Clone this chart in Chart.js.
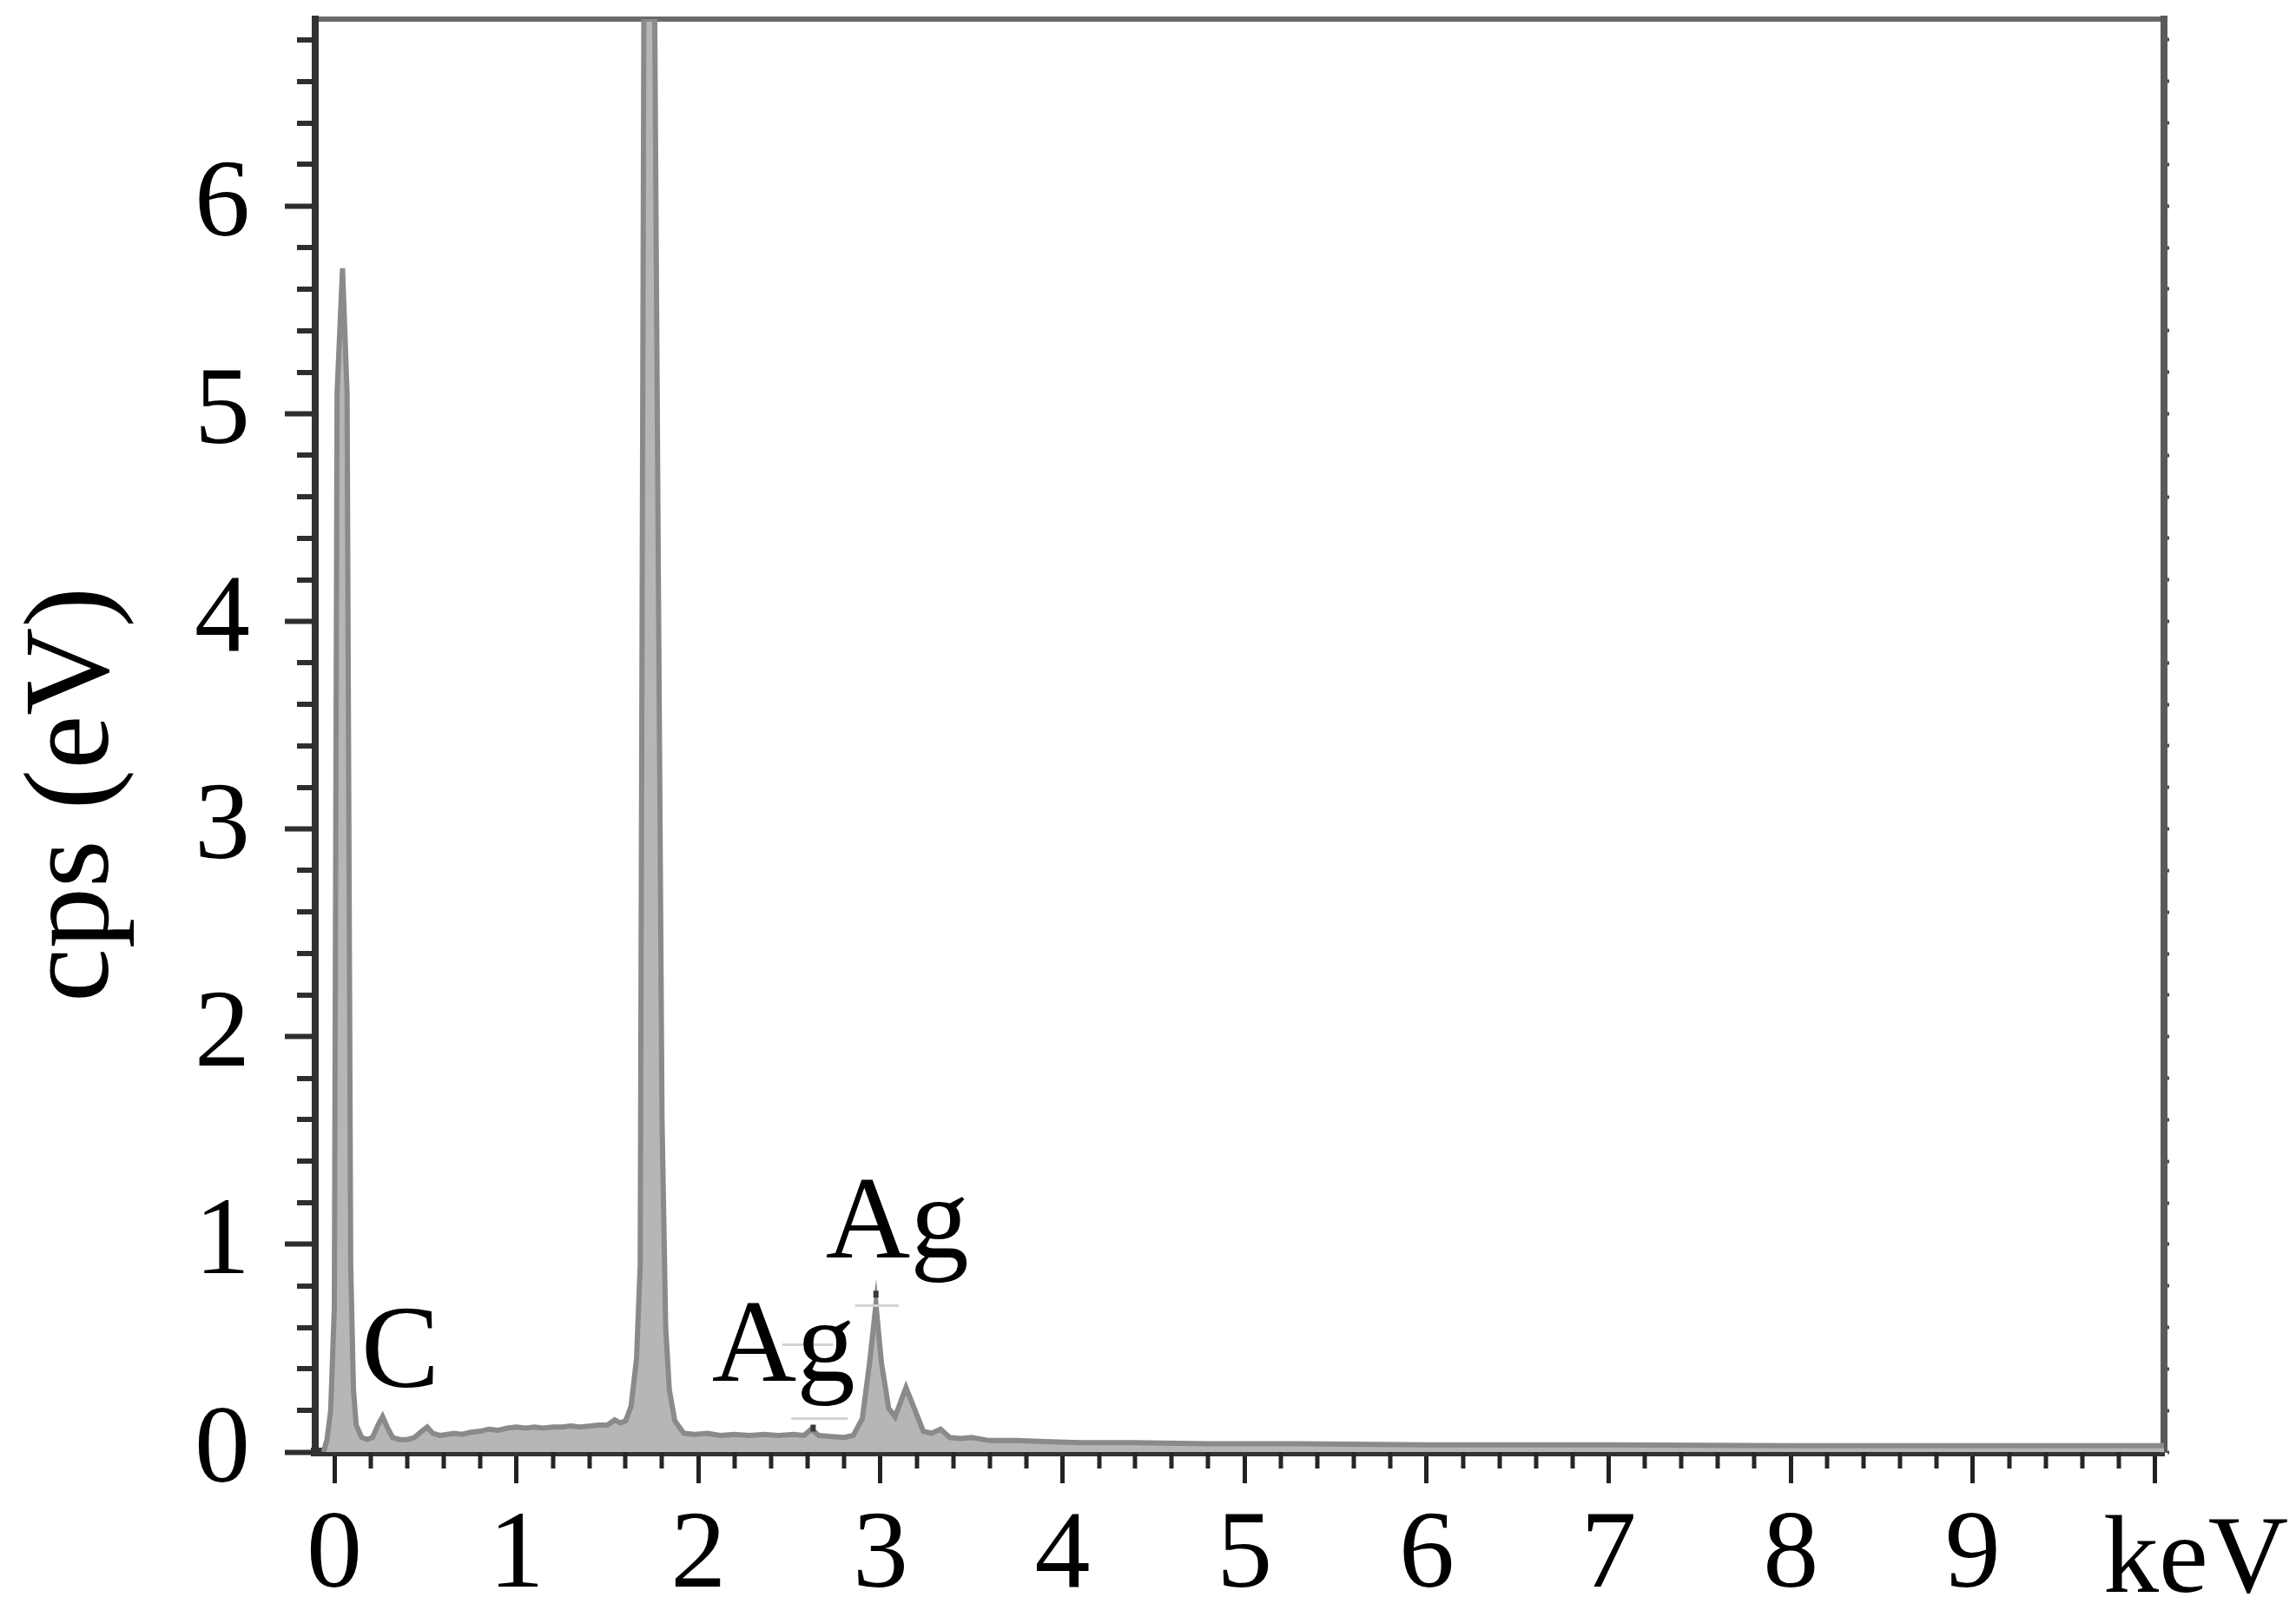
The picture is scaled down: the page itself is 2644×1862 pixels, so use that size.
<!DOCTYPE html>
<html>
<head>
<meta charset="utf-8">
<script src="https://cdn.jsdelivr.net/npm/chart.js@4.4.1/dist/chart.umd.min.js"></script>
<style>
html,body{margin:0;padding:0;background:#ffffff;}
canvas{display:block;}
</style>
</head>
<body>
<canvas id="c" width="2644" height="1862"></canvas>
<script>
// ---- data ----
const energyKeV = [-0.06, -0.04, -0.02, 0.00, 0.015, 0.045, 0.07, 0.09, 0.105, 0.12,
  0.15, 0.18, 0.21, 0.24, 0.265, 0.29, 0.32, 0.36, 0.40, 0.44,
  0.48, 0.51, 0.54, 0.58, 0.62, 0.66, 0.70, 0.75, 0.80, 0.85,
  0.90, 0.95, 1.00, 1.05, 1.10, 1.15, 1.20, 1.25, 1.30, 1.35,
  1.40, 1.45, 1.50, 1.54, 1.57, 1.60, 1.63, 1.66, 1.68, 1.70,
  1.73, 1.76, 1.78, 1.80, 1.82, 1.84, 1.87, 1.92, 1.98, 2.05,
  2.12, 2.20, 2.28, 2.36, 2.44, 2.52, 2.58, 2.62, 2.66, 2.72,
  2.80, 2.85, 2.90, 2.94, 2.975, 3.005, 3.045, 3.08, 3.14, 3.19,
  3.235, 3.28, 3.33, 3.38, 3.44, 3.50, 3.60, 3.75, 3.90, 4.10,
  4.40, 4.80, 5.30, 6.00, 7.00, 8.00, 9.00, 10.00, 10.05];

const countsCps = [0.00, 0.06, 0.20, 0.70, 5.10, 5.70, 5.10, 0.90, 0.30, 0.13,
  0.07, 0.06, 0.07, 0.13, 0.17, 0.12, 0.07, 0.06, 0.06, 0.07,
  0.10, 0.12, 0.09, 0.08, 0.085, 0.09, 0.085, 0.095, 0.10, 0.11,
  0.105, 0.115, 0.12, 0.115, 0.12, 0.115, 0.12, 0.12, 0.125, 0.12,
  0.125, 0.13, 0.13, 0.155, 0.14, 0.15, 0.22, 0.45, 0.90, 6.90,
  6.90, 6.90, 4.20, 1.60, 0.60, 0.30, 0.15, 0.09, 0.085, 0.09,
  0.08, 0.085, 0.08, 0.085, 0.08, 0.085, 0.08, 0.11, 0.08, 0.075,
  0.07, 0.08, 0.16, 0.43, 0.71, 0.43, 0.21, 0.17, 0.31, 0.20,
  0.10, 0.09, 0.11, 0.07, 0.065, 0.07, 0.055, 0.055, 0.05, 0.045,
  0.045, 0.04, 0.04, 0.035, 0.035, 0.03, 0.03, 0.03, 0.03];

const xTickLabels = ['0', '1', '2', '3', '4', '5', '6', '7', '8', '9'];
const yTickLabels = ['0', '1', '2', '3', '4', '5', '6'];
const xUnitLabel = 'keV';
const yAxisTitle = 'cps (eV)';

const peakLabelText = ['C', 'Ag', 'Ag'];
const peakLabelKeV  = [0.363, 2.467, 3.092];
const peakLabelCps  = [0.314, 0.343, 0.937];

// faint element-marker lines of the EDS software (keV start, keV end, cps level)
const markerLineFrom = [2.86, 2.51, 2.46];
const markerLineTo   = [3.10, 2.82, 2.74];
const markerLineCps  = [0.705, 0.163, 0.52];
// small dark marker dots (keV, cps)
const markerDotKeV = [2.975, 2.63];
const markerDotCps = [0.76, 0.115];

// ---- axis ranges ----
const X_MIN = -0.105, X_MAX = 10.05;
const Y_MIN = 0, Y_MAX = 6.9;

const points = energyKeV.map((e, i) => ({x: e, y: countsCps[i]}));

const SERIF = '"Liberation Serif", "Times New Roman", serif';

function fixBox(w, h) {
  return function (s) {
    if (w !== null) s.width = w;
    if (h !== null) s.height = h;
    s.paddingTop = 0; s.paddingBottom = 0; s.paddingLeft = 0; s.paddingRight = 0;
  };
}

const decorPlugin = {
  id: 'decor',
  afterDatasetsDraw(chart) {
    const {ctx, scales} = chart;
    const xs = scales.x, ys = scales.y;
    ctx.save();
    ctx.strokeStyle = '#d4d4d4';
    ctx.lineWidth = 3;
    ctx.beginPath();
    for (let i = 0; i < markerLineCps.length; i++) {
      const py = Math.round(ys.getPixelForValue(markerLineCps[i])) + 0.5;
      ctx.moveTo(xs.getPixelForValue(markerLineFrom[i]), py);
      ctx.lineTo(xs.getPixelForValue(markerLineTo[i]), py);
    }
    ctx.stroke();
    ctx.fillStyle = '#3a3a3a';
    for (let i = 0; i < markerDotKeV.length; i++) {
      const px = xs.getPixelForValue(markerDotKeV[i]);
      const py = ys.getPixelForValue(markerDotCps[i]);
      ctx.fillRect(px - 3, py - 4, 6, 8);
    }
    ctx.restore();
  },
  afterDraw(chart) {
    const {ctx, chartArea, scales} = chart;
    const xs = scales.x, ys = scales.y;
    ctx.save();
    // minor ticks on x axis
    ctx.strokeStyle = '#262626';
    ctx.lineWidth = 5;
    ctx.beginPath();
    for (let i = 1; i < 50; i++) {
      if (i % 5 === 0) continue;
      const px = Math.round(xs.getPixelForValue(i * 0.2));
      ctx.moveTo(px, chartArea.bottom);
      ctx.lineTo(px, chartArea.bottom + 19);
    }
    ctx.stroke();
    // minor ticks on y axis
    ctx.strokeStyle = '#2e2e2e';
    ctx.lineWidth = 6;
    ctx.beginPath();
    for (let i = 1; i < 35; i++) {
      if (i % 5 === 0) continue;
      const py = Math.round(ys.getPixelForValue(i * 0.2));
      ctx.moveTo(chartArea.left - 21, py);
      ctx.lineTo(chartArea.left, py);
    }
    ctx.stroke();

    ctx.fillStyle = '#000000';
    // unit label on x axis
    ctx.font = '128px ' + SERIF;
    ctx.textAlign = 'center';
    ctx.textBaseline = 'alphabetic';
    ctx.fillText(xUnitLabel, xs.getPixelForValue(10) + 47, chartArea.bottom + 161);

    // peak labels
    ctx.font = '135px ' + SERIF;
    for (let i = 0; i < peakLabelText.length; i++) {
      ctx.fillText(peakLabelText[i], xs.getPixelForValue(peakLabelKeV[i]), ys.getPixelForValue(peakLabelCps[i]));
    }

    // y axis title
    ctx.font = '140px ' + SERIF;
    ctx.translate(124, 915);
    ctx.rotate(-Math.PI / 2);
    ctx.textAlign = 'center';
    ctx.textBaseline = 'alphabetic';
    ctx.fillText(yAxisTitle, 0, 0);
    ctx.restore();
  }
};

new Chart(document.getElementById('c'), {
  type: 'line',
  data: {
    datasets: [{
      data: points,
      parsing: false,
      borderColor: '#8a8a8a',
      borderWidth: 6,
      backgroundColor: '#b6b6b6',
      fill: 'origin',
      pointRadius: 0,
      tension: 0,
      xAxisID: 'x',
      yAxisID: 'y'
    }]
  },
  options: {
    responsive: false,
    animation: false,
    events: [],
    layout: {padding: 0},
    plugins: {legend: {display: false}, tooltip: {enabled: false}, title: {display: false}},
    scales: {
      x: {
        type: 'linear', position: 'bottom', min: X_MIN, max: X_MAX,
        afterFit: fixBox(null, 190),
        border: {display: true, color: '#333333', width: 10},
        grid: {display: true, drawOnChartArea: false, drawTicks: true, tickLength: 36, tickWidth: 5, tickColor: '#222222'},
        ticks: {
          stepSize: 1, includeBounds: false, autoSkip: false, maxRotation: 0, maxTicksLimit: 100,
          padding: 9, color: '#000000',
          font: {family: SERIF, size: 128},
          callback: (v) => { const k = Math.round(v); return xTickLabels[k] !== undefined ? xTickLabels[k] : ''; }
        }
      },
      x2: {
        type: 'linear', position: 'top', min: X_MIN, max: X_MAX,
        afterFit: fixBox(null, 22),
        border: {display: true, color: '#6a6a6a', width: 6},
        grid: {display: false},
        ticks: {display: false}
      },
      y: {
        type: 'linear', position: 'left', min: Y_MIN, max: Y_MAX,
        afterFit: fixBox(363, null),
        border: {display: true, color: '#333333', width: 8},
        grid: {display: true, drawOnChartArea: false, drawTicks: true, tickLength: 35, tickWidth: 6, tickColor: '#2e2e2e'},
        ticks: {
          stepSize: 1, includeBounds: false, autoSkip: false, maxTicksLimit: 100,
          padding: 40, color: '#000000',
          font: {family: SERIF, size: 128},
          callback: (v) => { const k = Math.round(v); return yTickLabels[k] !== undefined ? yTickLabels[k] : ''; }
        }
      },
      y2: {
        type: 'linear', position: 'right', min: Y_MIN, max: Y_MAX,
        afterFit: fixBox(152, null),
        border: {display: true, color: '#5a5a5a', width: 8},
        grid: {display: true, drawOnChartArea: false, drawTicks: true, tickLength: 6, tickWidth: 4, tickColor: '#4a4a4a'},
        ticks: {display: false, stepSize: 0.2, includeBounds: false, maxTicksLimit: 100}
      }
    }
  },
  plugins: [decorPlugin]
});
</script>
</body>
</html>
